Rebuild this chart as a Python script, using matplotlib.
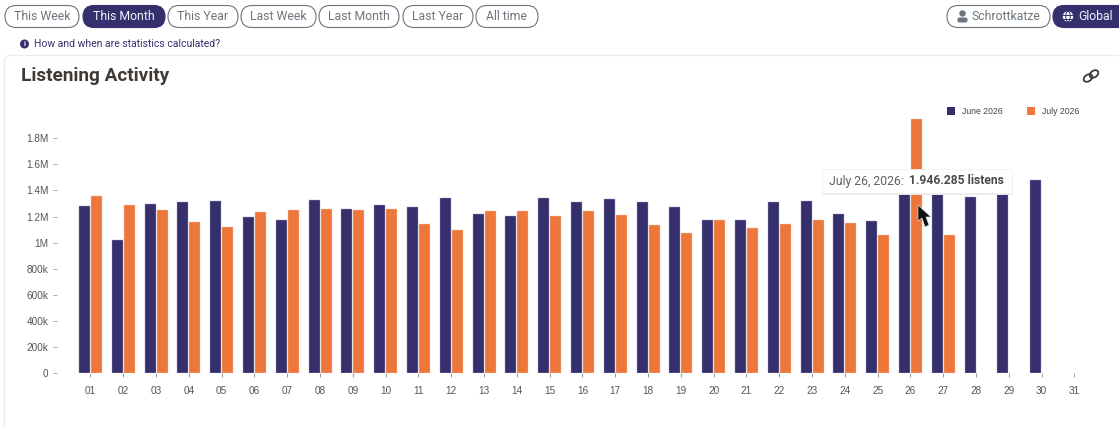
import numpy as np
from matplotlib import pyplot as plt
from matplotlib.patches import Circle, Ellipse, FancyBboxPatch, Polygon

W, H = 1119, 426

days = ["01", "02", "03", "04", "05", "06", "07", "08", "09", "10", "11", "12", "13", "14", "15", "16",
        "17", "18", "19", "20", "21", "22", "23", "24", "25", "26", "27", "28", "29", "30", "31"]
june = [1.28, 1.02, 1.30, 1.31, 1.32, 1.20, 1.175, 1.33, 1.26, 1.29, 1.275, 1.345, 1.22, 1.205, 1.34, 1.315,
        1.335, 1.31, 1.27, 1.175, 1.17, 1.315, 1.32, 1.22, 1.165, 1.42, 1.44, 1.35, 1.43, 1.48]
july = [1.355, 1.285, 1.25, 1.16, 1.12, 1.235, 1.25, 1.26, 1.25, 1.26, 1.145, 1.095, 1.245, 1.24, 1.205, 1.24,
        1.215, 1.135, 1.075, 1.17, 1.11, 1.14, 1.175, 1.15, 1.06, 1.946, 1.06]
y_ticks = [0, 0.2, 0.4, 0.6, 0.8, 1.0, 1.2, 1.4, 1.6, 1.8]
y_labels = ["0", "200k", "400k", "600k", "800k", "1M", "1.2M", "1.4M", "1.6M", "1.8M"]
periods = ["This Week", "This Month", "This Year", "Last Week", "Last Month", "Last Year", "All time"]
period_spans = [(5, 79), (83, 165), (168, 238), (241, 316), (319, 399), (403, 473), (476, 538)]

PURPLE = "#352f6e"
ORANGE = "#ed763b"
GREY = "#6c757d"


def pixel_axes(fig):
    ax = fig.add_axes([0, 0, 1, 1])
    ax.set_xlim(0, W)
    ax.set_ylim(H, 0)
    ax.axis("off")
    return ax


def pill(ax, x0, x1, label, filled=False, text_x=None):
    face = PURPLE if filled else "white"
    edge = PURPLE if filled else GREY
    ax.add_patch(FancyBboxPatch((x0, 5.5), x1 - x0, 22, boxstyle="round,pad=0,rounding_size=11",
                                fc=face, ec=edge, lw=0.8))
    color = "#f2f2f8" if filled else GREY
    x = (x0 + x1) / 2 if text_x is None else text_x
    ax.text(x, 16.5, label, color=color, family="Roboto", fontsize=8.8, ha="center" if text_x is None else "left",
            va="center")


plt.rcParams["font.family"] = ["Liberation Sans", "DejaVu Sans"]
fig = plt.figure(figsize=(W / 100, H / 100), dpi=100, facecolor="white")

# page behind the chart
bg = pixel_axes(fig)
bg.add_patch(FancyBboxPatch((4.5, 55.5), 1130, 420, boxstyle="round,pad=0,rounding_size=6",
                            fc="white", ec="#ececec", lw=1))
for (x0, x1), name in zip(period_spans, periods):
    pill(bg, x0, x1, name, filled=name == "This Month")
pill(bg, 947, 1050, "Schrottkatze", text_x=971)
pill(bg, 1053, 1135, "Global", filled=True, text_x=1078)

# info line
bg.add_patch(Circle((24.5, 44), 4.5, fc=PURPLE, ec="none"))
bg.text(24.5, 44, "i", color="white", fontsize=5, ha="center", va="center", weight="bold")
bg.text(33.5, 44, "How and when are statistics calculated?", color=PURPLE, family="Roboto", fontsize=7.5, va="center")
bg.text(21, 76, "Listening Activity", color="#3f3a36", family="Roboto", fontsize=13.7, weight="bold", va="center")

# user icon
bg.add_patch(Circle((962.5, 13.5), 3.2, fc=GREY, ec="none"))
bg.add_patch(FancyBboxPatch((957.5, 17.5), 10, 5, boxstyle="round,pad=0,rounding_size=2", fc=GREY, ec="none"))
# globe icon
bg.add_patch(Circle((1068, 16.5), 5.2, fc="white", ec="none"))
bg.add_patch(Ellipse((1068, 16.5), 4.5, 10.4, fc="none", ec=PURPLE, lw=0.7))
bg.plot([1063, 1073], [14.5, 14.5], color=PURPLE, lw=0.7)
bg.plot([1063, 1073], [18.5, 18.5], color=PURPLE, lw=0.7)
# link icon
bg.add_patch(Ellipse((1088, 78), 9.5, 6.5, angle=-35, fc="none", ec="#3a3a3a", lw=1.3))
bg.add_patch(Ellipse((1094, 74), 9.5, 6.5, angle=-35, fc="none", ec="#3a3a3a", lw=1.3))

# chart
x0_px, x1_px, top_px, base_px = 57, 1090, 100, 373.3
pitch, first_px, per_million = 32.8, 90.4, 130.6
ax = fig.add_axes([x0_px / W, 1 - base_px / H, (x1_px - x0_px) / W, (base_px - top_px) / H])
ax.patch.set_alpha(0)
positions = np.arange(1, len(days) + 1)
ax.bar(positions[:len(june)] - 0.18, np.array(june) * 1e6, width=0.335, color=PURPLE, edgecolor="#a5a2c4", lw=0.3)
ax.bar(positions[:len(july)] + 0.185, np.array(july) * 1e6, width=0.335, color=ORANGE, edgecolor="#f8c9ae", lw=0.3)
ax.set_xlim(1 + (x0_px - first_px) / pitch, 1 + (x1_px - first_px) / pitch)
ax.set_ylim(0, (base_px - top_px) / per_million * 1e6)
ax.set_xticks(positions, days)
ax.set_yticks(np.array(y_ticks) * 1e6, y_labels)
ax.tick_params(axis="x", length=3.2, width=0.7, color="#999999", labelcolor="#555555", labelsize=7.2, pad=6)
ax.tick_params(axis="y", length=3, width=0.7, color="#aaaaaa", labelcolor="#555555", labelsize=7.2, pad=3)
for spine in ax.spines.values():
    spine.set_visible(False)

# legend, tooltip and cursor sit on top
top = pixel_axes(fig)
top.add_patch(plt.Rectangle((947, 107), 8, 8, fc=PURPLE, ec="none"))
top.text(962, 111, "June 2026", color="#444444", fontsize=6.2, va="center")
top.add_patch(plt.Rectangle((1027, 107), 8, 8, fc=ORANGE, ec="none"))
top.text(1042, 111, "July 2026", color="#444444", fontsize=6.2, va="center")

top.add_patch(plt.Rectangle((823, 171), 190, 24, fc="#e8e8e8", ec="none"))
top.add_patch(plt.Rectangle((822, 169), 190, 24, fc="white", ec="#eeeeee", lw=0.5))
top.text(829, 181, "July 26, 2026:", color="#5f5f5f", family="Roboto", fontsize=8.8, va="center")
top.text(909, 181, "1.946.285 listens", color="#4a4a4a", family="Roboto", fontsize=8.7, va="center", weight="bold")
top.add_patch(Polygon([(918, 205), (918, 221), (922, 218), (925, 227), (929, 225), (926, 217), (931, 217)],
                      closed=True, fc="#111111", ec="#eeeeee", lw=0.4))

fig.savefig("out.png", dpi=100)
